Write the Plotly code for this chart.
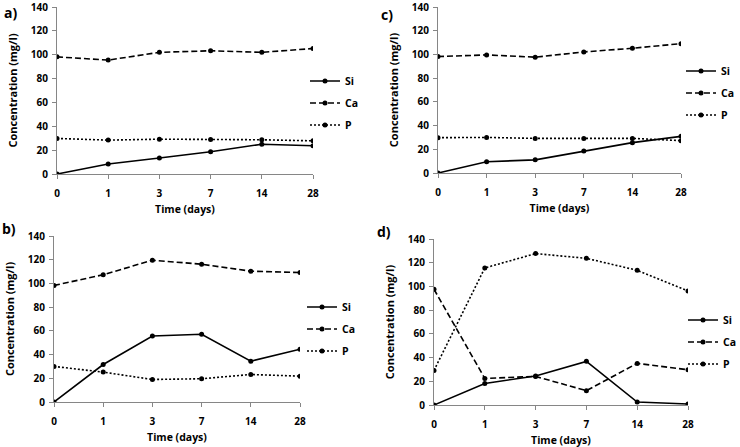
import plotly.graph_objects as go

days = ["0", "1", "3", "7", "14", "28"]
x_idx = [0, 1, 2, 3, 4, 5]

a_si = [0, 8.4, 13.4, 18.6, 25.0, 23.7]
a_ca = [98.2, 95.5, 102.0, 103.3, 102.0, 105.2]
a_p = [29.8, 28.4, 29.2, 29.0, 28.7, 27.8]

b_si = [0, 31.6, 55.7, 57.1, 34.4, 44.5]
b_ca = [98.3, 107.3, 119.6, 116.2, 110.3, 109.2]
b_p = [30.0, 25.2, 19.0, 19.6, 23.2, 21.8]

c_si = [0, 9.5, 11.1, 18.6, 25.6, 30.9]
c_ca = [98.2, 99.6, 97.7, 102.1, 105.2, 109.1]
c_p = [29.8, 30.0, 29.2, 29.2, 29.2, 27.3]

d_si = [0, 18.2, 24.4, 36.8, 2.5, 0.8]
d_ca = [97.6, 22.4, 24.1, 12.1, 35.1, 29.7]
d_p = [29.2, 115.6, 127.7, 123.7, 113.6, 96.2]

y_ticks = [0, 20, 40, 60, 80, 100, 120, 140]
series_names = ["Si", "Ca", "P"]

W, H = 740, 447
FAM = "Open Sans"
TICKF = dict(family=FAM, size=10, color="#000000", weight="bold")
TITLEF = dict(family=FAM, size=10.5, color="#000000", weight="bold")
YTITLEF = dict(family=FAM, size=11, color="#000000", weight="bold")
LEGF = dict(family=FAM, size=10.5, color="#000000", weight="bold")
LABF = dict(family=FAM, size=14, color="#000000", weight="bold")
AXC = "#868686"

def px(x):
    return x / W

def py(y):
    return 1 - y / H

# panel geometry in pixels: (left, right, top, bottom)
panels = {
    "a)": dict(box=(57, 313, 7, 174), xa="x", ya="y", leg="legend", legy=103, legx=305,
               data=(a_si, a_ca, a_p), lab=(2, 13)),
    "b)": dict(box=(54, 300, 236, 402), xa="x2", ya="y2", leg="legend2", legy=329, legx=302,
               data=(b_si, b_ca, b_p), lab=(0, 228)),
    "c)": dict(box=(438, 681, 7, 173), xa="x3", ya="y3", leg="legend3", legy=93, legx=681,
               data=(c_si, c_ca, c_p), lab=(379, 15)),
    "d)": dict(box=(434, 688, 239, 405), xa="x4", ya="y4", leg="legend4", legy=342, legx=683,
               data=(d_si, d_ca, d_p), lab=(375, 232)),
}

dashes = ["solid", "6px,3px", "2px,2px"]

fig = go.Figure()
layout = dict(
    width=W, height=H, margin=dict(l=0, r=0, t=0, b=0, autoexpand=False),
    paper_bgcolor="white", plot_bgcolor="white", font=TICKF,
    annotations=[],
)

for key, p in panels.items():
    l, r, t, b = p["box"]
    for name, dash, vals in zip(series_names, dashes, p["data"]):
        fig.add_trace(go.Scatter(
            x=x_idx, y=vals, name=name, mode="lines+markers",
            line=dict(color="black", width=1.6, dash=dash),
            marker=dict(color="black", size=5),
            xaxis=p["xa"], yaxis=p["ya"], legend=p["leg"],
            legendgroup=key + name, showlegend=True,
        ))
    xname = "xaxis" if p["xa"] == "x" else "xaxis" + p["xa"][1:]
    yname = "yaxis" if p["ya"] == "y" else "yaxis" + p["ya"][1:]
    layout[xname] = dict(
        domain=[px(l), px(r)], anchor=p["ya"], range=[0, 5],
        tickvals=x_idx, ticktext=days, showline=True, linecolor=AXC, linewidth=1,
        ticks="outside", ticklen=4, tickcolor=AXC, showgrid=False, zeroline=False,
        tickfont=TICKF, ticklabelstandoff=6, ticklabeloverflow="allow",
        title=dict(text="Time (days)", font=TITLEF, standoff=6),
    )
    layout[yname] = dict(
        domain=[py(b), py(t)], anchor=p["xa"], range=[0, 140],
        tickvals=y_ticks, showline=True, linecolor=AXC, linewidth=1,
        ticks="outside", ticklen=4, tickcolor=AXC, showgrid=False, zeroline=False,
        tickfont=TICKF, ticklabelstandoff=2, ticklabeloverflow="allow",
        title=dict(text="Concentration (mg/l)", font=YTITLEF, standoff=10),
    )
    layout[p["leg"]] = dict(
        x=px(p["legx"]), xanchor="left", y=py(p["legy"]), yanchor="middle",
        font=LEGF, bgcolor="rgba(0,0,0,0)", tracegroupgap=3, itemwidth=30,
    )
    layout["annotations"].append(dict(
        text=key, x=px(p["lab"][0]), y=py(p["lab"][1]), xref="paper", yref="paper",
        xanchor="left", yanchor="middle", showarrow=False, font=LABF,
    ))

fig.update_layout(**layout)
fig.write_html(
    "out.html",
    config={"displayModeBar": False},
    post_script="document.body.style.margin='0';document.body.style.overflow='hidden';",
)
